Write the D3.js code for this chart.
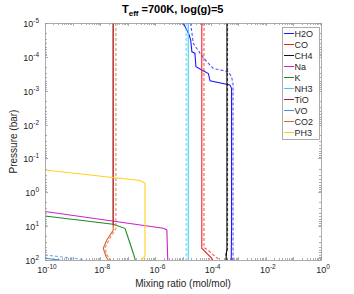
<!DOCTYPE html>
<html>
<head>
<meta charset="utf-8">
<script src="https://cdn.jsdelivr.net/npm/d3@7"></script>
<style>
  body { margin: 0; background: #fff; }
  svg { font-family: "Liberation Sans", Arial, sans-serif; }
</style>
</head>
<body>
<svg id="chart"></svg>
<script>
// species in legend order
const species = ["H2O", "CO", "CH4", "Na", "K", "NH3", "TiO", "VO", "CO2", "PH3"];
const colors = ["#1a1aff", "#f02020", "#111111", "#cc22cc", "#1e8c1e", "#3ccbf4", "#a2243a", "#3d8fd8", "#e0602a", "#ffd21f"];

const xTicks = [1e-10, 1e-8, 1e-6, 1e-4, 1e-2, 1];
const yTicks = [1e-5, 1e-4, 1e-3, 1e-2, 1e-1, 1, 10, 100];

// profiles: [mixing ratio, pressure (bar)]
const h2oSolid = [[1.02e-5, 1e-5], [1.66e-5, 2.2e-5], [1.9e-5, 3.2e-5], [2.1e-5, 7.1e-5], [2.7e-5, 7.8e-5],
  [2.95e-5, 1.95e-4], [4.8e-5, 2.45e-4], [8.3e-5, 3.1e-4], [9.5e-5, 5.1e-4], [5.0e-4, 6.8e-4],
  [5.75e-4, 8.5e-4], [5.75e-4, 10], [5.6e-4, 100]];
const h2oDashed = [[1.9e-5, 1e-5], [2.35e-5, 4.0e-5], [4.2e-5, 7.9e-5], [7.2e-5, 1.38e-4], [1.26e-4, 2.2e-4],
  [4.4e-4, 2.75e-4], [5.75e-4, 3.9e-4], [6.5e-4, 6.3e-4], [6.5e-4, 100]];
const coSolid = [[4.8e-5, 1e-5], [4.8e-5, 45], [1.1e-4, 89], [1.2e-4, 100]];
const coDashed = [[5.75e-5, 1e-5], [5.75e-5, 43], [8.3e-5, 52], [1.26e-4, 71], [1.9e-4, 93], [2.0e-4, 100]];
const ch4Solid = [[3.9e-4, 1e-5], [3.9e-4, 44], [3.6e-4, 100]];
const ch4Dashed = [[4.1e-4, 1e-5], [4.1e-4, 50], [3.5e-4, 70], [4.0e-4, 100]];
const naSolid = [[1e-10, 3.7], [1.95e-6, 11.6], [2.6e-6, 12.9], [2.8e-6, 100]];
const kSolid = [[1e-10, 5.0], [2.95e-8, 8.8], [7.9e-8, 11.6], [1.2e-7, 32], [1.58e-7, 63], [1.82e-7, 93], [1.85e-7, 100]];
const nh3Solid = [[1.55e-5, 1e-5], [1.55e-5, 100]];
const nh3Dashed = [[1.3e-5, 1e-5], [1.3e-5, 100]];
const tioSolid = [[2.95e-8, 1e-5], [2.95e-8, 9.5]];
const voSolid = [[1e-10, 89], [3.5e-10, 100]];
const voDashed = [[1e-10, 71], [1.86e-9, 94], [2.5e-9, 100]];
const co2Solid = [[2.95e-8, 1e-5], [2.95e-8, 13.2], [1.74e-8, 25.7], [1.29e-8, 44.7], [1.62e-8, 79], [1.95e-8, 100]];
const co2Dashed = [[3.7e-8, 1e-5], [3.7e-8, 8.7], [4.0e-8, 10.5], [2.3e-8, 22], [1.48e-8, 44], [1.74e-8, 71], [2.3e-8, 93], [2.4e-8, 100]];
const ph3Solid = [[1e-10, 0.22], [2.75e-7, 0.45], [4.2e-7, 0.54], [4.2e-7, 79], [3.2e-7, 93], [3.3e-7, 100]];

const profiles = [
  { name: "H2O", data: h2oSolid, dash: false }, { name: "H2O", data: h2oDashed, dash: true },
  { name: "CO", data: coSolid, dash: false }, { name: "CO", data: coDashed, dash: true },
  { name: "CH4", data: ch4Solid, dash: false }, { name: "CH4", data: ch4Dashed, dash: true },
  { name: "Na", data: naSolid, dash: false },
  { name: "K", data: kSolid, dash: false },
  { name: "NH3", data: nh3Solid, dash: false }, { name: "NH3", data: nh3Dashed, dash: true },
  { name: "CO2", data: co2Solid, dash: false }, { name: "CO2", data: co2Dashed, dash: true },
  { name: "TiO", data: tioSolid, dash: false },
  { name: "VO", data: voSolid, dash: false }, { name: "VO", data: voDashed, dash: true },
  { name: "PH3", data: ph3Solid, dash: false }
];

const width = 354, height = 294;
const margin = { top: 23, right: 33, bottom: 34, left: 45 };
const axisColor = "#999", textColor = "#262626";

const svg = d3.select("#chart").attr("width", width).attr("height", height);

const x = d3.scaleLog().domain([1e-10, 1]).range([margin.left, width - margin.right]);
const y = d3.scaleLog().domain([1e-5, 100]).range([margin.top, height - margin.bottom]);
const color = d3.scaleOrdinal().domain(species).range(colors);

// minor + major tick values
const minor = (lo, hi) => {
  const out = [];
  for (let e = lo; e < hi; e++) for (let m = 2; m <= 9; m++) out.push(m * Math.pow(10, e));
  return out;
};
const xMajor = d3.range(-10, 1).map(e => Math.pow(10, e));
const yMajor = d3.range(-5, 3).map(e => Math.pow(10, e));

svg.append("defs").append("clipPath").attr("id", "clip")
  .append("rect")
  .attr("x", margin.left).attr("y", margin.top)
  .attr("width", x.range()[1] - margin.left).attr("height", y.range()[1] - margin.top);

// ticks (inside, on all four sides)
const ticks = svg.append("g").attr("stroke", axisColor).attr("stroke-width", 0.8);
const x0 = margin.left, x1 = width - margin.right, y0 = margin.top, y1 = height - margin.bottom;
[[xMajor, 3], [minor(-10, 0), 2]].forEach(([vals, len]) => {
  vals.forEach(v => {
    const px = Math.round(x(v)) + 0.5;
    ticks.append("line").attr("x1", px).attr("x2", px).attr("y1", y1).attr("y2", y1 - len);
    ticks.append("line").attr("x1", px).attr("x2", px).attr("y1", y0).attr("y2", y0 + len);
  });
});
[[yMajor, 3], [minor(-5, 2), 2]].forEach(([vals, len]) => {
  vals.forEach(v => {
    const py = Math.round(y(v)) + 0.5;
    ticks.append("line").attr("y1", py).attr("y2", py).attr("x1", x0).attr("x2", x0 + len);
    ticks.append("line").attr("y1", py).attr("y2", py).attr("x1", x1).attr("x2", x1 - len);
  });
});

// lines
const line = d3.line().x(d => x(d[0])).y(d => y(d[1]));
svg.append("g").attr("clip-path", "url(#clip)")
  .selectAll("path")
  .data(profiles)
  .join("path")
  .attr("d", d => line(d.data))
  .attr("fill", "none")
  .attr("stroke", d => color(d.name))
  .attr("stroke-width", 1.1)
  .attr("stroke-opacity", d => d.dash ? 0.75 : 1)
  .attr("stroke-dasharray", d => d.dash ? "3,2" : null);

// frame
svg.append("rect")
  .attr("x", x0 + 0.5).attr("y", y0 + 0.5)
  .attr("width", x1 - x0).attr("height", y1 - y0)
  .attr("fill", "none").attr("stroke", axisColor).attr("stroke-width", 0.8);

// tick labels: 10 with superscript exponent
const expLabel = (sel, v) => {
  const e = Math.round(Math.log10(v));
  sel.append("tspan").text("10");
  sel.append("tspan").attr("font-size", 6.5).attr("dy", -4).text(e);
};
xTicks.forEach(v => {
  svg.append("text")
    .attr("x", x(v) + 2).attr("y", y1 + 13)
    .attr("text-anchor", "middle").attr("font-size", 9).attr("fill", textColor)
    .call(expLabel, v);
});
yTicks.forEach(v => {
  svg.append("text")
    .attr("x", x0 - 6).attr("y", y(v) + 4)
    .attr("text-anchor", "end").attr("font-size", 9).attr("fill", textColor)
    .call(expLabel, v);
});

// axis titles
svg.append("text")
  .attr("x", (x0 + x1) / 2).attr("y", 287)
  .attr("text-anchor", "middle").attr("font-size", 10).attr("fill", textColor)
  .text("Mixing ratio (mol/mol)");
svg.append("text")
  .attr("transform", `translate(17,${(y0 + y1) / 2}) rotate(-90)`)
  .attr("text-anchor", "middle").attr("font-size", 10).attr("fill", textColor)
  .text("Pressure (bar)");

// title
const title = svg.append("text")
  .attr("x", 122).attr("y", 13)
  .attr("font-size", 11).attr("font-weight", "bold").attr("fill", "#000");
title.append("tspan").text("T");
title.append("tspan").attr("font-size", 8).attr("dy", 3).text("eff");
title.append("tspan").attr("dy", -3).text(" =700K, log(g)=5");

// legend
const lg = svg.append("g").attr("transform", "translate(282.5,27.5)");
lg.append("rect").attr("width", 37).attr("height", 112)
  .attr("fill", "#fff").attr("stroke", axisColor).attr("stroke-width", 0.8);
const items = lg.selectAll("g.item").data(species).join("g")
  .attr("transform", (d, i) => `translate(0,${6 + i * 11})`);
items.append("line").attr("x1", 1.5).attr("x2", 11.5)
  .attr("stroke", d => color(d)).attr("stroke-width", 1);
items.append("text").attr("x", 12).attr("y", 3.3)
  .attr("font-size", 9).attr("fill", textColor).text(d => d);
</script>
</body>
</html>
